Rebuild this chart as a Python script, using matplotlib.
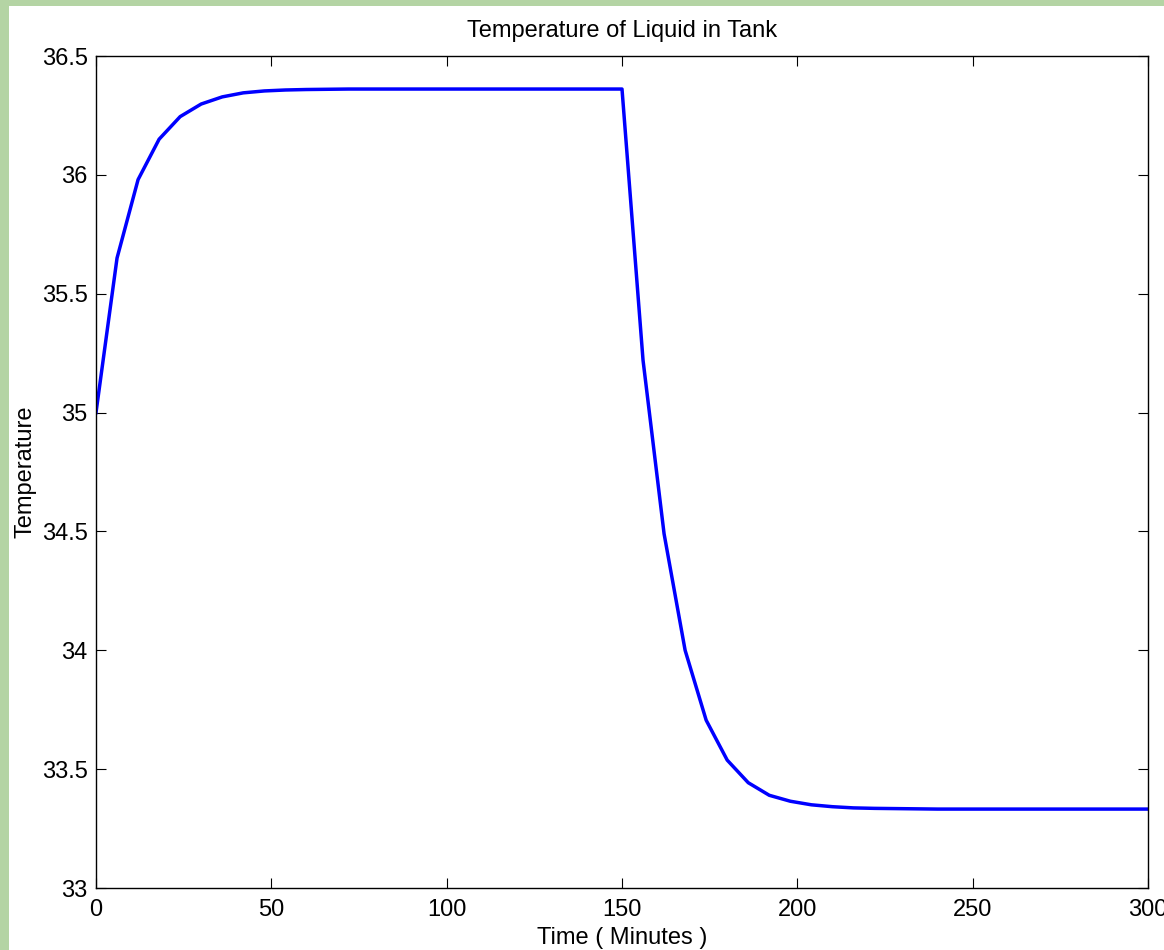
import matplotlib
matplotlib.use("Agg")
import matplotlib.pyplot as plt
from matplotlib.patches import Rectangle
from matplotlib.ticker import FormatStrFormatter, MultipleLocator

plt.rcParams['font.family'] = ['Liberation Sans', 'DejaVu Sans']

# tank temperature, sampled every 6 minutes
time_min = [0, 6, 12, 18, 24, 30, 36, 42, 48, 54, 60, 66, 72, 78, 84, 90,
            96, 102, 108, 114, 120, 126, 132, 138, 144, 150,
            156, 162, 168, 174, 180, 186, 192, 198, 204, 210, 216, 222,
            228, 234, 240, 246, 252, 258, 264, 270, 276, 282, 288, 294, 300]
temperature = [35.0, 35.65, 35.98, 36.15, 36.245, 36.298, 36.328, 36.345,
               36.353, 36.357, 36.359, 36.36, 36.361, 36.361, 36.361, 36.361,
               36.361, 36.361, 36.361, 36.361, 36.361, 36.361, 36.361, 36.361,
               36.361, 36.361,
               35.22, 34.49, 34.0, 33.706, 33.538, 33.443, 33.39, 33.365,
               33.35, 33.342, 33.337, 33.335, 33.334, 33.333, 33.332, 33.332,
               33.332, 33.332, 33.332, 33.332, 33.332, 33.332, 33.332, 33.332,
               33.332]

fig = plt.figure(figsize=(11.64, 9.5), dpi=100)
fig.patch.set_facecolor('#b4d4a4')
# white plotting window over the green backdrop
fig.patches.append(Rectangle((9 / 1164, 0), 1 - 9 / 1164, 1 - 6 / 950,
                             transform=fig.transFigure, facecolor='white',
                             edgecolor='none', zorder=-10))

ax = fig.add_axes([96 / 1164, 62 / 950, 1052 / 1164, 832 / 950])
ax.set_facecolor('none')
ax.plot(time_min, temperature, color='#0000ff', linewidth=2.5)

ax.set_xlim(0, 300)
ax.set_ylim(33, 36.5)
ax.xaxis.set_major_locator(MultipleLocator(50))
ax.yaxis.set_major_locator(MultipleLocator(0.5))
ax.yaxis.set_major_formatter(FormatStrFormatter('%g'))
ax.tick_params(direction='in', top=True, right=True, length=7, width=0.8,
               labelsize=17)
ax.tick_params(axis='x', pad=8)
ax.tick_params(axis='y', pad=6)
for s in ax.spines.values():
    s.set_linewidth(1.0)

ax.set_title('Temperature of Liquid in Tank', fontsize=17, pad=13.5)
ax.set_xlabel('Time ( Minutes )', fontsize=17)
ax.set_ylabel('Temperature', fontsize=17)
ax.xaxis.set_label_coords(0.5, -0.047)
ax.yaxis.set_label_coords(-0.057, 0.5)

fig.savefig('out.png', dpi=100)
